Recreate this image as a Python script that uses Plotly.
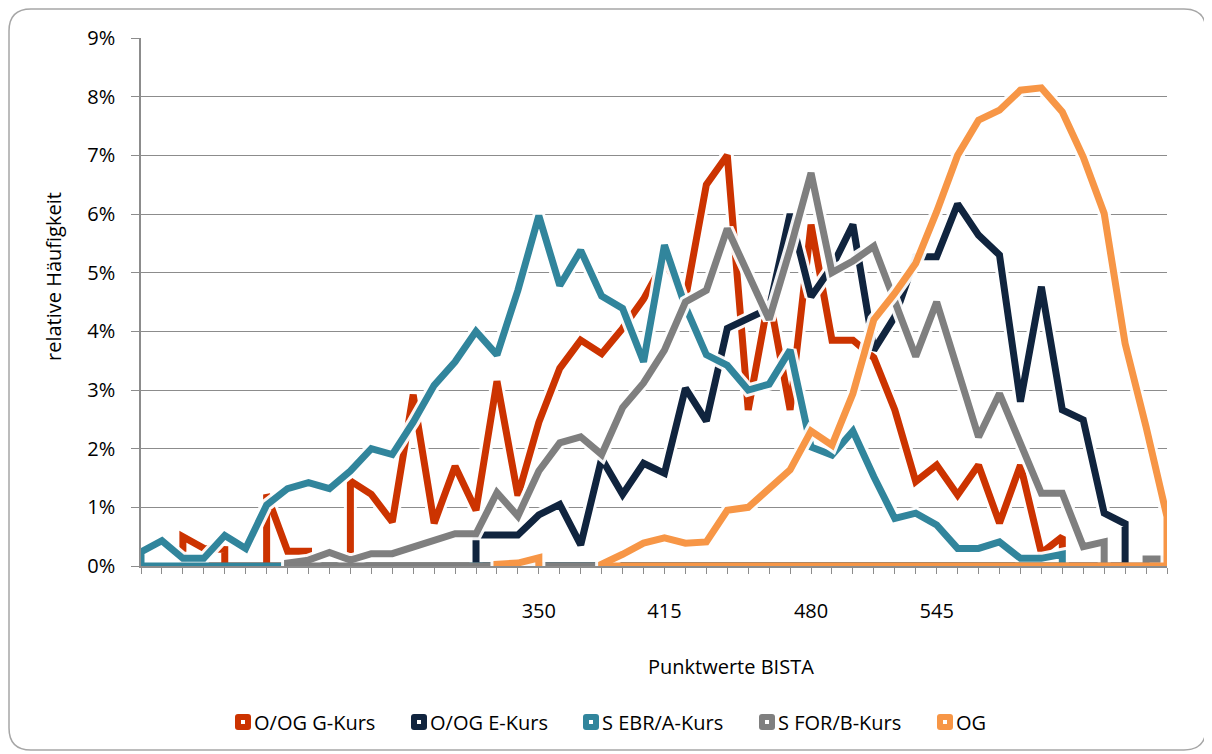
import plotly.graph_objects as go

# category positions (score bins) and the few labelled ones
n_cat = 50
categories = list(range(n_cat))
label_positions = [19, 25, 32, 38]
label_texts = ["350", "415", "480", "545"]

# relative frequencies in percent, None = no value in that bin
og_g_kurs = [None, None, 0.5, 0.3, 0.28, None, 1.22, 0.25, 0.25, None,
             1.45, 1.22, 0.75, 2.92, 0.73, 1.7, 0.95, 3.15, 1.2, 2.45,
             3.37, 3.85, 3.62, 4.05, 4.55, 5.2, 4.55, 6.5, 7.0, 2.66,
             4.6, 2.66, 5.82, 3.85, 3.85, 3.55, 2.66, 1.44, 1.72, 1.21,
             1.72, 0.73, 1.72, 0.22, 0.5, None, None, None, None, None]
og_e_kurs = [None, None, None, None, None, None, None, None, None, None,
             None, None, None, None, None, None, 0.53, 0.53, 0.53, 0.87,
             1.05, 0.36, 1.83, 1.22, 1.75, 1.58, 3.03, 2.47, 4.05, 4.22,
             4.39, 6.0, 4.59, 5.1, 5.82, 3.68, 4.25, 5.27, 5.27, 6.17,
             5.64, 5.3, 2.8, 4.76, 2.66, 2.49, 0.9, 0.72, None, None]
s_ebr_a = [0.24, 0.43, 0.13, 0.13, 0.52, 0.3, 1.04, 1.32, 1.42, 1.32,
           1.62, 2.0, 1.9, 2.45, 3.08, 3.48, 4.0, 3.6, 4.7, 5.97,
           4.78, 5.38, 4.6, 4.39, 3.48, 5.47, 4.42, 3.6, 3.42, 3.0,
           3.1, 3.68, 2.03, 1.89, 2.3, 1.52, 0.81, 0.9, 0.7, 0.3,
           0.3, 0.41, 0.13, 0.13, 0.2, None, None, None, None, None]
s_for_b = [None, None, None, None, None, None, None, 0.05, 0.1, 0.23,
           0.1, 0.21, 0.21, 0.33, 0.44, 0.55, 0.55, 1.25, 0.85, 1.62,
           2.1, 2.2, 1.9, 2.7, 3.12, 3.68, 4.5, 4.7, 5.75, 5.0,
           4.2, 5.4, 6.7, 5.0, 5.2, 5.45, 4.5, 3.57, 4.5, 3.3,
           2.2, 2.94, 2.05, 1.24, 1.24, 0.33, 0.41, None, 0.12, 0.12]
og = [None, None, None, None, None, None, None, None, None, None,
      None, None, None, None, None, None, None, 0.03, 0.05, 0.14,
      None, None, 0.03, 0.2, 0.39, 0.48, 0.39, 0.41, 0.95, 1.0,
      1.33, 1.64, 2.3, 2.06, 2.94, 4.2, 4.65, 5.16, 6.04, 7.0,
      7.6, 7.77, 8.11, 8.15, 7.74, 6.97, 6.01, 3.79, 2.37, 0.84]

names = ["O/OG G-Kurs", "O/OG E-Kurs", "S EBR/A-Kurs", "S FOR/B-Kurs", "OG"]
series = [og_g_kurs, og_e_kurs, s_ebr_a, s_for_b, og]
# zero line each series runs along (first, last bin)
baselines = [(2, 44), (16, 47), (0, 44), (7, 49), (22, 49)]
colors = ["#CC3300", "#10243E", "#31859C", "#7F7F7F", "#F79646"]


def segments(values):
    # runs of values, each dropping to zero at both ends
    xs, ys = [], []
    run_x, run_y = [], []
    for i, v in zip(categories + [None], values + [None]):
        if v is None:
            if run_x:
                xs += [run_x[0]] + run_x + [run_x[-1], None]
                ys += [0] + run_y + [0, None]
                run_x, run_y = [], []
        else:
            run_x.append(i)
            run_y.append(v)
    return xs, ys


fig = go.Figure()
for name, vals, base, col in zip(names, series, baselines, colors):
    sx, sy = segments(vals)
    # white glow under the line
    fig.add_trace(go.Scatter(x=sx, y=sy, mode="lines", hoverinfo="skip",
                             line=dict(color="rgba(255,255,255,0.95)", width=13),
                             showlegend=False))
    fig.add_trace(go.Scatter(x=sx + [base[0], base[1]], y=sy + [0, 0],
                             mode="lines", name=name, showlegend=False,
                             line=dict(color=col, width=7)))

ticktext = [""] * n_cat
for p, t in zip(label_positions, label_texts):
    ticktext[p] = t

# page is drawn 8px in from the top left, so the figure is 8px smaller
W, H = 1204, 746
L, T, R, B = 133, 30, 45, 188
pw, ph = W - L - R, H - T - B


def px(x_page):
    return (x_page - 8 - L) / pw


def py(y_page):
    return (H - B - (y_page - 8)) / ph


def rounded(x0, y0, x1, y1, r):
    # rounded rectangle, offsets in px from the plot origin (y up)
    return (f"M {x0 + r},{y1} L {x1 - r},{y1} Q {x1},{y1} {x1},{y1 - r} "
            f"L {x1},{y0 + r} Q {x1},{y0} {x1 - r},{y0} L {x0 + r},{y0} "
            f"Q {x0},{y0} {x0},{y0 + r} L {x0},{y1 - r} Q {x0},{y1} {x0 + r},{y1} Z")


ox, oy = L + 8, H - B + 8  # plot origin on the page
shapes = [dict(type="path", xref="paper", yref="paper", xsizemode="pixel",
               ysizemode="pixel", xanchor=0, yanchor=0,
               path=rounded(9 - ox, oy - 750, 1206 - ox, oy - 9, 22),
               line=dict(color="#A6A6A6", width=1.5), layer="below")]

annotations = [
    dict(text="Punktwerte BISTA", xref="paper", yref="paper", x=px(731), y=py(666),
         xanchor="center", yanchor="middle", showarrow=False, font=dict(size=20)),
    dict(text="relative Häufigkeit", xref="paper", yref="paper", x=px(53), y=py(277),
         xanchor="center", yanchor="middle", textangle=-90, showarrow=False,
         font=dict(size=20)),
]

# legend: rounded colour squares with a white dot, text right after
legend_left = [235, 411, 583, 759, 937]
legend_y = 722
for name, col, lx in zip(names, colors, legend_left):
    shapes.append(dict(type="path", xref="paper", yref="paper", xsizemode="pixel",
                       ysizemode="pixel", xanchor=0, yanchor=0,
                       path=rounded(lx - ox, oy - legend_y - 8, lx + 16 - ox,
                                    oy - legend_y + 8, 3),
                       fillcolor=col, line=dict(width=0)))
    shapes.append(dict(type="rect", xref="paper", yref="paper", xsizemode="pixel",
                       ysizemode="pixel", xanchor=0, yanchor=0,
                       x0=lx + 6 - ox, x1=lx + 10 - ox,
                       y0=oy - legend_y - 2, y1=oy - legend_y + 2,
                       fillcolor="white", line=dict(width=0)))
    annotations.append(dict(text=name, xref="paper", yref="paper", x=px(lx + 17),
                            y=py(legend_y), xanchor="left", yanchor="middle",
                            showarrow=False, font=dict(size=20)))

axis_col = "#8C8C8C"
fig.update_layout(
    width=W, height=H,
    margin=dict(l=L, r=R, t=T, b=B),
    paper_bgcolor="white", plot_bgcolor="white",
    font=dict(family="Open Sans", size=20, color="#000000"),
    showlegend=False,
    xaxis=dict(range=[0, n_cat - 1], tickmode="array", tickvals=categories,
               ticktext=ticktext, ticks="outside", ticklen=6, tickcolor=axis_col,
               showline=True, linecolor=axis_col, linewidth=1.5, showgrid=False,
               zeroline=False, ticklabelstandoff=20),
    yaxis=dict(range=[0, 9], dtick=1, ticksuffix="%", ticks="outside", ticklen=8,
               tickcolor=axis_col, showline=True, linecolor=axis_col, linewidth=1.5,
               showgrid=True, gridcolor=axis_col, gridwidth=1.2, zeroline=False,
               ticklabelstandoff=12),
    annotations=annotations,
    shapes=shapes,
)

fig.write_html("out.html")
